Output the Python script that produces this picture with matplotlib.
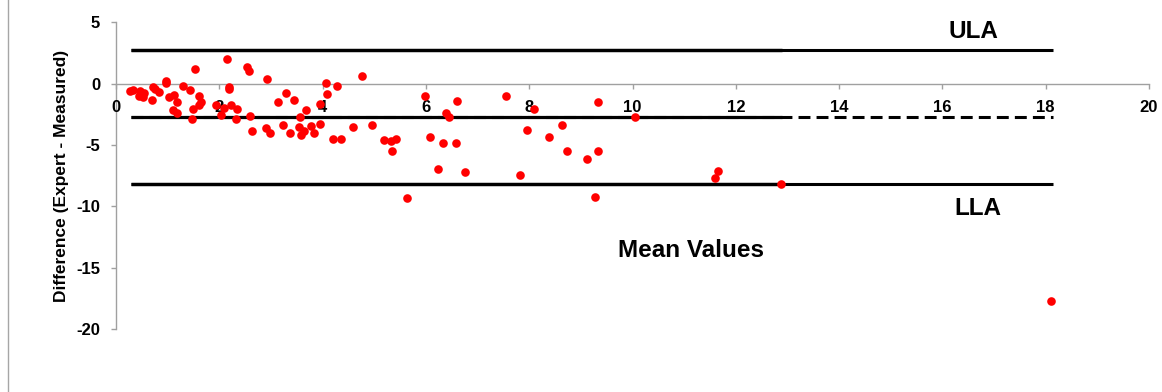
import matplotlib
matplotlib.use("Agg")
import matplotlib.pyplot as plt
from matplotlib.lines import Line2D

plt.rcParams['font.family'] = ['Liberation Sans', 'DejaVu Sans']

# Mean of the two measurements (x) and their difference (y)
mean_values = [
    0.27, 0.32, 0.46, 0.54, 0.45, 0.53, 0.69, 0.71, 0.76, 0.84,
    0.96, 0.97, 1.03, 1.12, 1.18, 1.11, 1.19, 1.29, 1.43, 1.53,
    1.60, 1.64, 1.60, 1.50, 1.47, 1.93, 2.03, 2.09, 2.14, 2.19,
    2.18, 2.23, 2.35, 2.32, 2.53, 2.58, 2.59, 2.63, 2.92, 2.90,
    2.99, 3.14, 3.30, 3.45, 3.23, 3.37, 3.56, 3.54, 3.58, 3.64,
    3.67, 3.77, 3.83, 3.94, 3.94, 4.07, 4.09, 4.27, 4.20, 4.35,
    4.59, 4.76, 4.96, 5.18, 5.32, 5.42, 5.34, 5.99, 6.07, 6.34,
    6.39, 6.44, 6.61, 6.58, 6.24, 6.76, 5.64, 7.55, 8.09, 7.96,
    8.38, 8.63, 8.74, 9.12, 9.33, 9.33, 7.82, 9.28, 10.05, 11.60,
    11.66, 12.87, 18.10,
]
differences = [
    -0.57, -0.51, -0.57, -0.73, -1.00, -1.11, -1.33, -0.29, -0.46, -0.65,
    0.24, 0.03, -1.11, -0.92, -1.47, -2.14, -2.41, -0.19, -0.51, 1.17,
    -1.00, -1.47, -1.74, -2.04, -2.85, -1.76, -2.53, -2.00, 1.99, -0.24,
    -0.46, -1.71, -2.04, -2.85, 1.39, 1.06, -2.63, -3.88, 0.36, -3.63,
    -3.99, -1.49, -0.78, -1.33, -3.34, -3.99, -2.74, -3.55, -4.18, -3.83,
    -2.14, -3.42, -3.99, -3.28, -1.65, 0.03, -0.84, -0.19, -4.48, -4.48,
    -3.55, 0.63, -3.37, -4.59, -4.69, -4.48, -5.51, -1.00, -4.38, -4.81,
    -2.41, -2.74, -1.39, -4.81, -6.95, -7.17, -9.32, -1.00, -2.04, -3.77,
    -4.37, -3.34, -5.51, -6.11, -5.51, -1.49, -7.44, -9.21, -2.74, -7.66,
    -7.13, -8.17, -17.71,
]

# Agreement statistics
bias = -2.72
upper_limit = 2.73
lower_limit = -8.17
line_span = [0.30, 18.15]
inner_span = [0.30, 12.90]

x_ticks = [0, 2, 4, 6, 8, 10, 12, 14, 16, 18, 20]
y_ticks = [-20, -15, -10, -5, 0, 5]

fig = plt.figure(figsize=(11.62, 3.92), dpi=100)
ax = fig.add_axes([116 / 1162, 63 / 392, 1033 / 1162, 306.7 / 392])

axis_grey = '#a0a0a0'

# Limits of agreement and mean difference
for yv in (upper_limit, lower_limit):
    ax.plot(line_span, [yv, yv], color='black', lw=2.2, solid_capstyle='butt', zorder=2)
    ax.plot(inner_span, [yv, yv], color='black', lw=2.45, solid_capstyle='butt', zorder=2)
ax.plot(line_span, [bias, bias], color='black', lw=2.2, dashes=(3.9, 2.0), zorder=2)
ax.plot(inner_span, [bias, bias], color='black', lw=2.3, solid_capstyle='butt', zorder=2)

ax.plot(mean_values, differences, linestyle='none', marker='o', markersize=6.2,
        markerfacecolor='#ff0000', markeredgecolor='#ff0000', markeredgewidth=0, zorder=3)

ax.set_xlim(0, 20)
ax.set_ylim(-20, 5)
ax.set_xticks(x_ticks)
ax.set_yticks(y_ticks)
ax.set_xticklabels([str(t) for t in x_ticks])
ax.set_yticklabels([str(t) for t in y_ticks])

for side in ('top', 'right'):
    ax.spines[side].set_visible(False)
ax.spines['bottom'].set_position(('data', 0))
ax.spines['bottom'].set_color(axis_grey)
ax.spines['left'].set_color(axis_grey)
ax.spines['bottom'].set_linewidth(1.0)
ax.spines['left'].set_linewidth(1.0)

ax.tick_params(axis='both', direction='out', length=3.5, width=1.0, color=axis_grey,
               labelsize=12)
ax.tick_params(axis='x', pad=8)
ax.tick_params(axis='y', pad=8)
for lab in ax.get_xticklabels() + ax.get_yticklabels():
    lab.set_fontweight('bold')
ax.set_axisbelow(False)

ax.set_ylabel('Difference (Expert - Measured)', fontsize=12.5, fontweight='bold', va='center')
ax.yaxis.set_label_coords((62 - 116) / 1033, 0.5)

ax.text(16.6, 4.21, 'ULA', fontsize=17.5, fontweight='bold', ha='center', va='center')
ax.text(16.68, -10.21, 'LLA', fontsize=17.5, fontweight='bold', ha='center', va='center')
ax.text(11.14, -13.63, 'Mean Values', fontsize=17.5, fontweight='bold', ha='center', va='center')

fig.add_artist(Line2D([7.5 / 1162, 7.5 / 1162], [0, 1], transform=fig.transFigure,
                      color='#a6a6a6', lw=1.0))

fig.savefig('out.png', dpi=100)
